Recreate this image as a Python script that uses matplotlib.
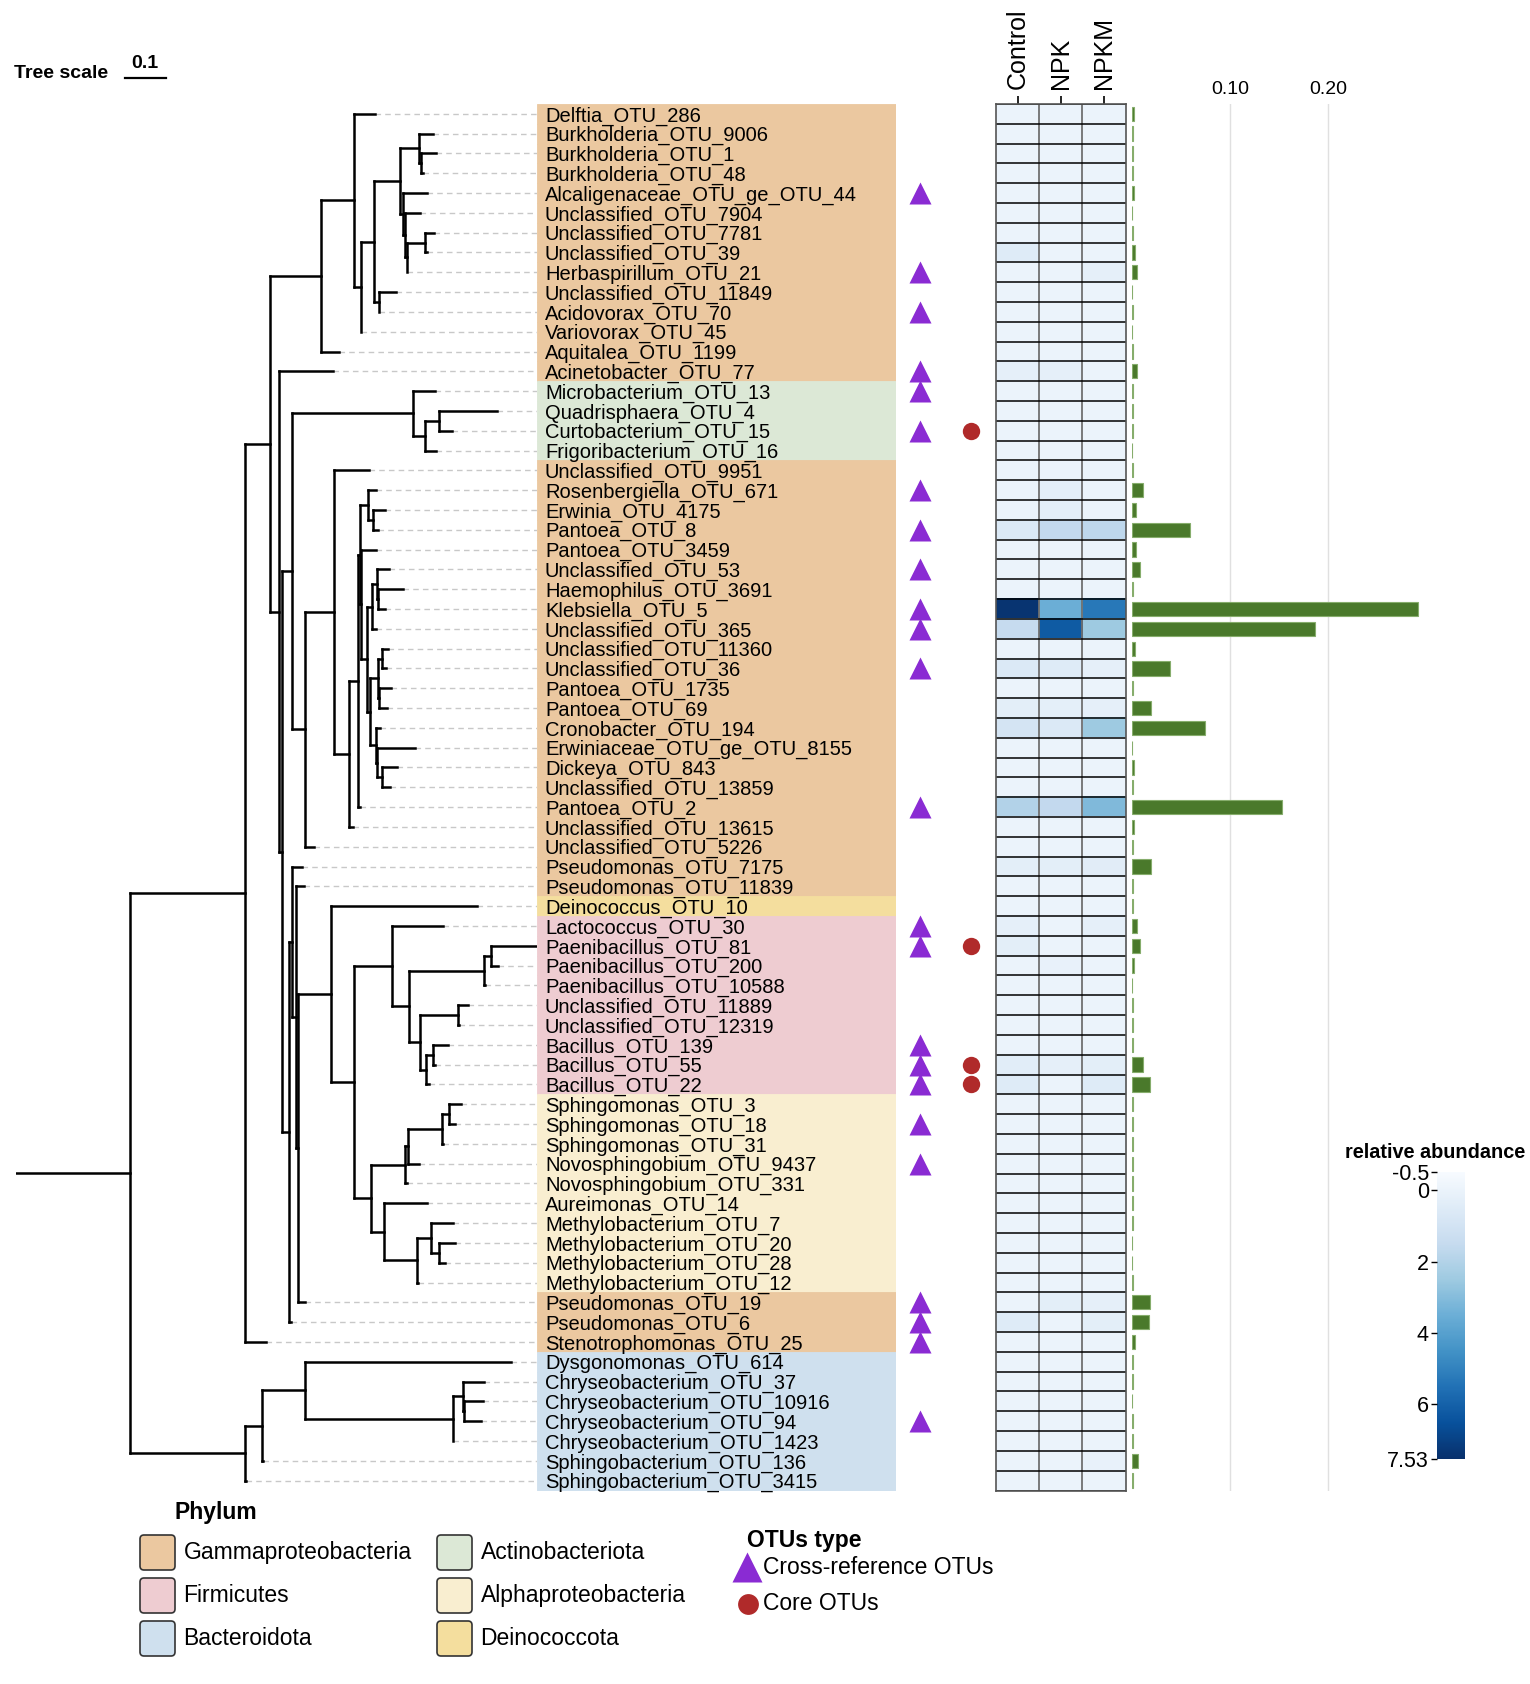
import numpy as np
import matplotlib
matplotlib.use("Agg")
import matplotlib.pyplot as plt
from matplotlib.patches import FancyBboxPatch
from matplotlib.lines import Line2D

plt.rcParams["font.family"] = ["Liberation Sans", "DejaVu Sans"]

W, H = 1530, 1684

# ---------------- data ----------------
otus = [
    "Delftia_OTU_286", "Burkholderia_OTU_9006", "Burkholderia_OTU_1", "Burkholderia_OTU_48",
    "Alcaligenaceae_OTU_ge_OTU_44", "Unclassified_OTU_7904", "Unclassified_OTU_7781",
    "Unclassified_OTU_39", "Herbaspirillum_OTU_21", "Unclassified_OTU_11849", "Acidovorax_OTU_70",
    "Variovorax_OTU_45", "Aquitalea_OTU_1199", "Acinetobacter_OTU_77", "Microbacterium_OTU_13",
    "Quadrisphaera_OTU_4", "Curtobacterium_OTU_15", "Frigoribacterium_OTU_16", "Unclassified_OTU_9951",
    "Rosenbergiella_OTU_671", "Erwinia_OTU_4175", "Pantoea_OTU_8", "Pantoea_OTU_3459",
    "Unclassified_OTU_53", "Haemophilus_OTU_3691", "Klebsiella_OTU_5", "Unclassified_OTU_365",
    "Unclassified_OTU_11360", "Unclassified_OTU_36", "Pantoea_OTU_1735", "Pantoea_OTU_69",
    "Cronobacter_OTU_194", "Erwiniaceae_OTU_ge_OTU_8155", "Dickeya_OTU_843", "Unclassified_OTU_13859",
    "Pantoea_OTU_2", "Unclassified_OTU_13615", "Unclassified_OTU_5226", "Pseudomonas_OTU_7175",
    "Pseudomonas_OTU_11839", "Deinococcus_OTU_10", "Lactococcus_OTU_30", "Paenibacillus_OTU_81",
    "Paenibacillus_OTU_200", "Paenibacillus_OTU_10588", "Unclassified_OTU_11889", "Unclassified_OTU_12319",
    "Bacillus_OTU_139", "Bacillus_OTU_55", "Bacillus_OTU_22", "Sphingomonas_OTU_3", "Sphingomonas_OTU_18",
    "Sphingomonas_OTU_31", "Novosphingobium_OTU_9437", "Novosphingobium_OTU_331", "Aureimonas_OTU_14",
    "Methylobacterium_OTU_7", "Methylobacterium_OTU_20", "Methylobacterium_OTU_28", "Methylobacterium_OTU_12",
    "Pseudomonas_OTU_19", "Pseudomonas_OTU_6", "Stenotrophomonas_OTU_25", "Dysgonomonas_OTU_614",
    "Chryseobacterium_OTU_37", "Chryseobacterium_OTU_10916", "Chryseobacterium_OTU_94",
    "Chryseobacterium_OTU_1423", "Sphingobacterium_OTU_136", "Sphingobacterium_OTU_3415",
]

# phylum of consecutive rows (name, number of rows)
phylum_runs = [
    ("Gammaproteobacteria", 14), ("Actinobacteriota", 4), ("Gammaproteobacteria", 22),
    ("Deinococcota", 1), ("Firmicutes", 9), ("Alphaproteobacteria", 10),
    ("Gammaproteobacteria", 3), ("Bacteroidota", 7),
]
phylum_colors = {
    "Gammaproteobacteria": "#ebc8a0",
    "Firmicutes": "#eeccd1",
    "Bacteroidota": "#cfe0ee",
    "Actinobacteriota": "#dce8d6",
    "Alphaproteobacteria": "#f9eed0",
    "Deinococcota": "#f4de9e",
}
legend_order = ["Gammaproteobacteria", "Firmicutes", "Bacteroidota",
                "Actinobacteriota", "Alphaproteobacteria", "Deinococcota"]

cross_reference = [
    "Alcaligenaceae_OTU_ge_OTU_44", "Herbaspirillum_OTU_21", "Acidovorax_OTU_70", "Acinetobacter_OTU_77",
    "Microbacterium_OTU_13", "Curtobacterium_OTU_15", "Rosenbergiella_OTU_671", "Pantoea_OTU_8",
    "Unclassified_OTU_53", "Klebsiella_OTU_5", "Unclassified_OTU_365", "Unclassified_OTU_36",
    "Pantoea_OTU_2", "Lactococcus_OTU_30", "Paenibacillus_OTU_81", "Bacillus_OTU_139",
    "Bacillus_OTU_55", "Bacillus_OTU_22", "Sphingomonas_OTU_18", "Novosphingobium_OTU_9437",
    "Pseudomonas_OTU_19", "Pseudomonas_OTU_6", "Stenotrophomonas_OTU_25", "Chryseobacterium_OTU_94",
]
core = ["Curtobacterium_OTU_15", "Paenibacillus_OTU_81", "Bacillus_OTU_55", "Bacillus_OTU_22"]

# tree: internal node -> [(child, branch length)], children listed top to bottom
root_length = 0.2788
tree_nodes = {
    "root": [("A", 0.2785), ("Bc", 0.2785)],
    "Bc": [("Bc1", 0.0427), ("Sphingobacterium_OTU_3415", 0.0024)],
    "Bc1": [("Bc2", 0.1037), ("Sphingobacterium_OTU_136", 0.0027)],
    "Bc2": [("Dysgonomonas_OTU_614", 0.5044), ("Bc3", 0.3617)],
    "Bc3": [("Bc4", 0.0251), ("Chryseobacterium_OTU_1423", 0.0)],
    "Bc4": [("Chryseobacterium_OTU_37", 0.0505), ("Bc5", 0.0027)],
    "Bc5": [("Chryseobacterium_OTU_10916", 0.0444), ("Chryseobacterium_OTU_94", 0.0410)],
    "A": [("B", 0.0610), ("Stenotrophomonas_OTU_25", 0.0524)],
    "B": [("C", 0.1263), ("N", 0.0220)],
    "C": [("D", 0.0785), ("Aquitalea_OTU_1199", 0.0437)],
    "D": [("Delftia_OTU_286", 0.0522), ("E", 0.0173)],
    "E": [("F", 0.0322), ("Variovorax_OTU_45", 0.0017)],
    "F": [("G", 0.0637), ("M", 0.0132)],
    "G": [("Hb", 0.0454), ("J", 0.0071)],
    "Hb": [("Burkholderia_OTU_9006", 0.0356), ("I", 0.0068)],
    "I": [("Burkholderia_OTU_1", 0.0359), ("Burkholderia_OTU_48", 0.0044)],
    "J": [("Alcaligenaceae_OTU_ge_OTU_44", 0.0590), ("K", 0.0051)],
    "K": [("Unclassified_OTU_7904", 0.0356), ("K2", 0.0051)],
    "K2": [("L", 0.0437), ("Herbaspirillum_OTU_21", 0.0)],
    "L": [("Unclassified_OTU_7781", 0.0217), ("Unclassified_OTU_39", 0.0044)],
    "M": [("Unclassified_OTU_11849", 0.0417), ("Acidovorax_OTU_70", 0.0)],
    "N": [("Acinetobacter_OTU_77", 0.1324), ("P", 0.0085)],
    "P": [("Q", 0.0244), ("P2", 0.0159)],
    "Q": [("R", 0.2937), ("U", 0.0324)],
    "R": [("Microbacterium_OTU_13", 0.0549), ("S", 0.0305)],
    "S": [("T", 0.0349), ("Frigoribacterium_OTU_16", 0.0278)],
    "T": [("Quadrisphaera_OTU_4", 0.1410), ("Curtobacterium_OTU_15", 0.0305)],
    "U": [("V", 0.0705), ("Unclassified_OTU_5226", 0.0200)],
    "V": [("Unclassified_OTU_9951", 0.0846), ("Wn", 0.0366)],
    "Wn": [("X", 0.0220), ("Unclassified_OTU_13615", 0.0098)],
    "X": [("X1", 0.0029), ("Pantoea_OTU_2", 0.0041)],
    "X1": [("Z1", 0.0200), ("X2", 0.0037)],
    "Z1": [("Rosenbergiella_OTU_671", 0.0210), ("Z2", 0.0137)],
    "Z2": [("Erwinia_OTU_4175", 0.0285), ("Pantoea_OTU_8", 0.0122)],
    "X2": [("Pantoea_OTU_3459", 0.0373), ("Hm4", 0.0139)],
    "Hm4": [("Hm3", 0.0122), ("Cr", 0.0080)],
    "Hm3": [("Hm2", 0.0122), ("Unclassified_OTU_365", 0.0105)],
    "Hm2": [("Unclassified_OTU_53", 0.0307), ("Hm1", 0.0039)],
    "Hm1": [("Haemophilus_OTU_3691", 0.0610), ("Klebsiella_OTU_5", 0.0163)],
    "Cr": [("Pa", 0.0202), ("Er", 0.0146)],
    "Pa": [("Un", 0.0083), ("Pa2", 0.0012)],
    "Un": [("Unclassified_OTU_11360", 0.0161), ("Unclassified_OTU_36", 0.0105)],
    "Pa2": [("Pantoea_OTU_1735", 0.0290), ("Pantoea_OTU_69", 0.0193)],
    "Er": [("Cronobacter_OTU_194", 0.0098), ("Er2", 0.0017)],
    "Er2": [("Erwiniaceae_OTU_ge_OTU_8155", 0.0934), ("Dk", 0.0122)],
    "Dk": [("Dickeya_OTU_843", 0.0366), ("Unclassified_OTU_13859", 0.0202)],
    "P2": [("P3", 0.0085), ("Pseudomonas_OTU_6", 0.0059)],
    "P3": [("Pseudomonas_OTU_7175", 0.0237), ("P4", 0.0105)],
    "P4": [("Pseudomonas_OTU_11839", 0.0176), ("P5", 0.0027)],
    "P5": [("FA", 0.0827), ("Pseudomonas_OTU_19", 0.0193)],
    "FA": [("Deinococcus_OTU_10", 0.3546), ("FA2", 0.0541)],
    "FA2": [("Fi", 0.0932), ("Al", 0.0434)],
    "Fi": [("Lactococcus_OTU_30", 0.1246), ("Fi2", 0.0417)],
    "Fi2": [("Pb", 0.1829), ("Ba", 0.0261)],
    "Pb": [("Pb2", 0.0176), ("Paenibacillus_OTU_10588", 0.0017)],
    "Pb2": [("Paenibacillus_OTU_81", 0.1132), ("Paenibacillus_OTU_200", 0.0156)],
    "Ba": [("Un2", 0.0934), ("Ba2", 0.0149)],
    "Un2": [("Unclassified_OTU_11889", 0.0244), ("Unclassified_OTU_12319", 0.0024)],
    "Ba2": [("Ba3", 0.0176), ("Bacillus_OTU_22", 0.0071)],
    "Ba3": [("Bacillus_OTU_139", 0.0373), ("Bacillus_OTU_55", 0.0051)],
    "Al": [("Sp", 0.0829), ("Me", 0.0305)],
    "Sp": [("Sp2", 0.0061), ("Novosphingobium_OTU_331", 0.0039)],
    "Sp2": [("Sp3", 0.0827), ("Novosphingobium_OTU_9437", 0.0261)],
    "Sp3": [("Sp4", 0.0173), ("Sphingomonas_OTU_31", 0.0027)],
    "Sp4": [("Sphingomonas_OTU_3", 0.0288), ("Sphingomonas_OTU_18", 0.0159)],
    "Me": [("Aureimonas_OTU_14", 0.1046), ("Me2", 0.0802)],
    "Me2": [("Me3", 0.0356), ("Methylobacterium_OTU_12", 0.0027)],
    "Me3": [("Methylobacterium_OTU_7", 0.0524), ("Me4", 0.0176)],
    "Me4": [("Methylobacterium_OTU_20", 0.0410), ("Methylobacterium_OTU_28", 0.0146)],
}

treatments = ["Control", "NPK", "NPKM"]
control = [0, 0, 0, 0, 0, 0, 0, 0.5, 0, 0,
           0, 0, 0, 0.2, 0, 0, 0, 0, 0, 0,
           0, 0.6, 0, 0, 0, 7.4, 1.5, 0, 0.6, 0,
           0.3, 0.9, 0, 0, 0, 2.0, 0, 0, 0.3, 0,
           0, 0.2, 0.3, 0, 0, 0, 0, 0, 0.35, 0.5,
           0, 0, 0, 0, 0, 0, 0, 0, 0, 0,
           0, 0.5, 0, 0, 0, 0, 0, 0, 0, 0]
npk = [0, 0, 0, 0, 0, 0, 0, 0, 0, 0,
       0, 0, 0, 0.2, 0, 0, 0, 0, 0, 0.3,
       0.3, 1.6, 0, 0, 0, 3.5, 6.2, 0, 0.5, 0,
       0.25, 0.6, 0, 0, 0, 1.6, 0, 0, 0.3, 0,
       0, 0, 0, 0.1, 0, 0, 0, 0, 0.2, 0,
       0, 0, 0, 0, 0, 0, 0, 0, 0, 0,
       0.3, 0, 0, 0, 0, 0, 0, 0, 0, 0]
npkm = [0, 0, 0, 0, 0, 0, 0, 0, 0.2, 0,
        0, 0, 0, 0, 0, 0, 0, 0, 0, 0,
        0, 1.7, 0, 0, 0, 5.3, 2.5, 0, 0.2, 0,
        0.2, 2.5, 0, 0, 0, 3.1, 0, 0, 0.4, 0,
        0, 0.2, 0, 0, 0, 0, 0, 0, 0.3, 0.5,
        0, 0, 0, 0, 0, 0, 0, 0, 0, 0,
        0.2, 0.3, 0, 0, 0, 0, 0, 0, 0.1, 0]

abundance = [0.002, 0.0005, 0.001, 0.0005, 0.002, 0, 0.001, 0.003, 0.0045, 0,
             0.001, 0, 0.0005, 0.0045, 0.0005, 0.001, 0.001, 0, 0.0005, 0.011,
             0.0035, 0.059, 0.004, 0.008, 0.001, 0.292, 0.186, 0.003, 0.038, 0.001,
             0.0185, 0.074, 0, 0.002, 0.001, 0.153, 0.002, 0.0005, 0.019, 0.0005,
             0.0005, 0.0045, 0.008, 0.0017, 0, 0.0005, 0.0005, 0.0008, 0.0105, 0.0177,
             0.0008, 0.001, 0.0003, 0.0005, 0.001, 0.0003, 0.0003, 0, 0, 0.001,
             0.0177, 0.0167, 0.0027, 0.0003, 0.001, 0, 0.001, 0.0005, 0.006, 0.001]

# ---------------- layout helpers ----------------
fig = plt.figure(figsize=(W / 100, H / 100), dpi=100)

ROW_TOP, ROW_BOTTOM = 103.9, 1490.5
n = len(otus)
rows = np.arange(n)


def px_axes(x0, y0, x1, y1):
    return fig.add_axes([x0 / W, 1 - y1 / H, (x1 - x0) / W, (y1 - y0) / H])


def fx(x):
    return x / W


def fy(y):
    return 1 - y / H


def row_axes(x0, x1):
    ax = px_axes(x0, ROW_TOP, x1, ROW_BOTTOM)
    ax.set_ylim(n - 0.5, -0.5)
    return ax


# ---------------- tree ----------------
TREE_LW = 1.8
ax_tree = row_axes(16.1, 537)
tree_end = (537 - 16.1) / 410.0
ax_tree.set_xlim(0, tree_end)
ax_tree.axis("off")


def draw_clade(name, parent_x, length):
    x = parent_x + length
    if name in tree_nodes:
        ys = [draw_clade(child, x, bl) for child, bl in tree_nodes[name]]
        y = (ys[0] + ys[-1]) / 2
        ax_tree.plot([x, x], [ys[0], ys[-1]], color="black", lw=TREE_LW,
                     solid_capstyle="projecting", zorder=3)
    else:
        y = otus.index(name)
        ax_tree.plot([x, tree_end], [y, y], color="#c8c8c8", lw=1.0,
                     dashes=(4, 3), zorder=1)
    ax_tree.plot([parent_x, x], [y, y], color="black", lw=TREE_LW,
                 solid_capstyle="projecting", zorder=3)
    return y


draw_clade("root", 0, root_length)

# tree scale
fig.text(fx(14), fy(73), "Tree scale", fontsize=14, fontweight="bold", va="center", ha="left")
fig.text(fx(145), fy(64), "0.1", fontsize=14, fontweight="bold", va="center", ha="center")
fig.add_artist(Line2D([fx(124.5), fx(124.5 + 41)], [fy(78), fy(78)], color="black", lw=1.6))

# ---------------- labels with phylum backgrounds ----------------
row_phylum = []
for name, count in phylum_runs:
    row_phylum += [name] * count
row_colors = [phylum_colors[p] for p in row_phylum]

ax_lab = row_axes(537, 896)
ax_lab.set_xlim(0, 1)
ax_lab.barh(rows, 1, height=1, left=0, color=row_colors, edgecolor=row_colors, lw=0.6)
for i, name in enumerate(otus):
    ax_lab.text(0.022, i, name, fontsize=14.5, va="center_baseline", ha="left")
ax_lab.axis("off")

# ---------------- OTU type markers ----------------
ax_mk = row_axes(895, 996)
ax_mk.set_xlim(-0.5, 1.5)
tri_rows = [otus.index(o) for o in cross_reference]
core_rows = [otus.index(o) for o in core]
ax_mk.plot([0] * len(tri_rows), tri_rows, "^", ms=16, color="#8a2bd3", mec="none")
ax_mk.plot([1] * len(core_rows), core_rows, "o", ms=12.5, color="#b02a2a", mec="none")
ax_mk.axis("off")

# ---------------- heatmap ----------------
ax_hm = row_axes(996, 1125.7)
heat = np.array([control, npk, npkm]).T
im = ax_hm.imshow(heat, cmap="Blues", vmin=-0.5, vmax=7.53, aspect="auto",
                  interpolation="nearest", extent=(-0.5, 2.5, n - 0.5, -0.5))
ax_hm.set_xlim(-0.5, 2.5)
ax_hm.set_ylim(n - 0.5, -0.5)
ax_hm.set_yticks(np.arange(-0.5, n, 1), minor=True)
ax_hm.set_xticks([0.5, 1.5], minor=True)
ax_hm.grid(which="minor", axis="y", color="black", lw=1.1)
ax_hm.grid(which="minor", axis="x", color="#707070", lw=1.3)
ax_hm.set_yticks([])
ax_hm.xaxis.tick_top()
ax_hm.set_xticks([0, 1, 2])
ax_hm.set_xticklabels(treatments, rotation=90, fontsize=18)
ax_hm.tick_params(axis="x", which="major", length=6, width=1.2, pad=5)
ax_hm.tick_params(which="minor", length=0)
for s in ax_hm.spines.values():
    s.set_color("#555555")
    s.set_linewidth(1.2)

# ---------------- abundance bars ----------------
ax_bar = row_axes(1132.4, 1485)
ax_bar.set_xlim(0, 0.36)
ax_bar.barh(rows, abundance, height=0.72, color="#4a792b", edgecolor="#86ad6c", lw=0.8, zorder=3)
ax_bar.set_xticks([0.10, 0.20])
ax_bar.set_xticklabels(["0.10", "0.20"], fontsize=14)
ax_bar.xaxis.tick_top()
ax_bar.tick_params(axis="x", length=0, pad=4.5)
ax_bar.set_yticks([])
ax_bar.grid(axis="x", color="#e0e0e0", lw=1.0, zorder=0)
for s in ax_bar.spines.values():
    s.set_visible(False)

# ---------------- colorbar ----------------
cax = px_axes(1437.3, 1172.3, 1465, 1459)
cb = fig.colorbar(im, cax=cax, ticks=[-0.5, 0, 2, 4, 6, 7.53])
cb.ax.invert_yaxis()
cb.ax.yaxis.set_ticks_position("left")
cb.ax.set_yticklabels(["-0.5", "0", "2", "4", "6", "7.53"], fontsize=15.5)
cb.ax.tick_params(length=4, width=1, pad=2)
cb.outline.set_visible(False)
fig.text(fx(1435), fy(1152), "relative abundance", fontsize=14.3, fontweight="bold",
         ha="center", va="center")

# ---------------- legends ----------------
ax_leg = fig.add_axes([0, 0, 1, 1], zorder=-1)
ax_leg.set_xlim(0, W)
ax_leg.set_ylim(H, 0)
ax_leg.axis("off")

ax_leg.text(175, 1513, "Phylum", fontsize=16.5, fontweight="bold", va="center", ha="left")
for k, ph in enumerate(legend_order):
    col, r = divmod(k, 3)
    bx = 140 + col * 297
    by = 1535 + r * 43
    ax_leg.add_patch(FancyBboxPatch((bx, by), 35, 35, boxstyle="round,pad=0,rounding_size=4",
                                    fc=phylum_colors[ph], ec="#333333", lw=1.2))
    ax_leg.text(bx + 43.5, by + 17.5, ph, fontsize=16.5, va="center", ha="left")

ax_leg.text(747, 1541, "OTUs type", fontsize=16.5, fontweight="bold", va="center", ha="left")
ax_leg.plot([747.5], [1567], "^", ms=21, color="#8a2bd3", mec="none")
ax_leg.text(763, 1568, "Cross-reference OTUs", fontsize=16.5, va="center", ha="left")
ax_leg.plot([748.5], [1603.5], "o", ms=15, color="#b02a2a", mec="none")
ax_leg.text(763, 1604, "Core OTUs", fontsize=16.5, va="center", ha="left")

fig.savefig("out.png", dpi=100)
